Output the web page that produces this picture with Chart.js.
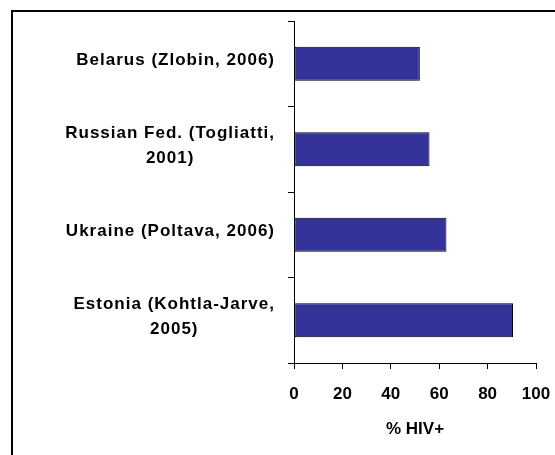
<!DOCTYPE html>
<html>
<head>
<meta charset="utf-8">
<script src="https://cdn.jsdelivr.net/npm/chart.js@4"></script>
<style>
  html, body { margin: 0; padding: 0; background: #ffffff; }
  #wrap { position: relative; width: 555px; height: 455px; }
</style>
</head>
<body>
<div id="wrap"><canvas id="c" width="555" height="455"></canvas></div>
<script>
var siteLabels = [
  ['Belarus (Zlobin, 2006)'],
  ['Russian Fed. (Togliatti,', '2001)'],
  ['Ukraine (Poltava, 2006)'],
  ['Estonia (Kohtla-Jarve,', '2005)']
];
var hivPositive = [52, 56, 63, 90.5];
var xTicks = [0, 20, 40, 60, 80, 100];
var xTitle = '% HIV+';

var FONT = '"Liberation Sans", Arial, sans-serif';

// frame around the whole figure (runs off the right and bottom edge)
var framePlugin = {
  id: 'frame',
  beforeDraw: function(chart) {
    var ctx = chart.ctx;
    ctx.save();
    ctx.strokeStyle = '#000';
    ctx.lineWidth = 2;
    ctx.strokeRect(12, 11, 600, 500);
    ctx.restore();
  }
};

// category labels: block right-aligned next to the axis, lines centred inside the block
var catLabelPlugin = {
  id: 'catLabels',
  afterDraw: function(chart) {
    var ctx = chart.ctx;
    var yScale = chart.scales.y;
    var rightX = 275, lineH = 25;
    ctx.save();
    ctx.fillStyle = '#000';
    ctx.font = 'bold 17px ' + FONT;
    ctx.letterSpacing = '1px';
    ctx.textAlign = 'center';
    ctx.textBaseline = 'middle';
    siteLabels.forEach(function(lines, i) {
      var yc = yScale.getPixelForTick(i) - 3;
      var widest = 0;
      lines.forEach(function(line) { widest = Math.max(widest, ctx.measureText(line).width); });
      var cx = rightX - widest / 2;
      var y0 = yc - (lines.length - 1) * lineH / 2;
      lines.forEach(function(line, j) {
        ctx.fillText(line, cx, y0 + j * lineH);
      });
    });
    ctx.restore();
  }
};

new Chart(document.getElementById('c').getContext('2d'), {
  type: 'bar',
  data: {
    labels: siteLabels,
    datasets: [{
      data: hivPositive,
      backgroundColor: '#333399',
      borderColor: '#000000',
      borderWidth: 1,
      borderSkipped: false,
      barPercentage: 0.4,
      categoryPercentage: 1.0
    }]
  },
  options: {
    indexAxis: 'y',
    responsive: false,
    animation: false,
    devicePixelRatio: 1,
    layout: { padding: { left: 0, right: 19, top: 21, bottom: 0 } },
    plugins: { legend: { display: false }, tooltip: { enabled: false } },
    scales: {
      y: {
        grid: { drawOnChartArea: false, color: '#000', tickLength: 6, offset: true },
        border: { color: '#000', width: 1 },
        ticks: { display: false },
        afterFit: function(scale) {
          scale.width = 294;
          scale.paddingTop = 0;
          scale.paddingBottom = 0;
        }
      },
      x: {
        min: 0,
        max: 100,
        afterBuildTicks: function(scale) {
          scale.ticks = xTicks.map(function(v) { return { value: v }; });
        },
        grid: { drawOnChartArea: false, color: '#000', tickLength: 6 },
        border: { color: '#000', width: 1 },
        ticks: {
          color: '#000',
          padding: 15,
          maxRotation: 0,
          font: { family: FONT, size: 17, weight: 'bold' }
        },
        title: {
          display: true,
          text: xTitle,
          color: '#000',
          padding: { top: 0, bottom: 15 },
          font: { family: FONT, size: 17, weight: 'bold' }
        },
        afterFit: function(scale) {
          scale.height = 92;
          scale.paddingLeft = 0;
          scale.paddingRight = 0;
        }
      }
    }
  },
  plugins: [framePlugin, catLabelPlugin]
});
</script>
</body>
</html>
